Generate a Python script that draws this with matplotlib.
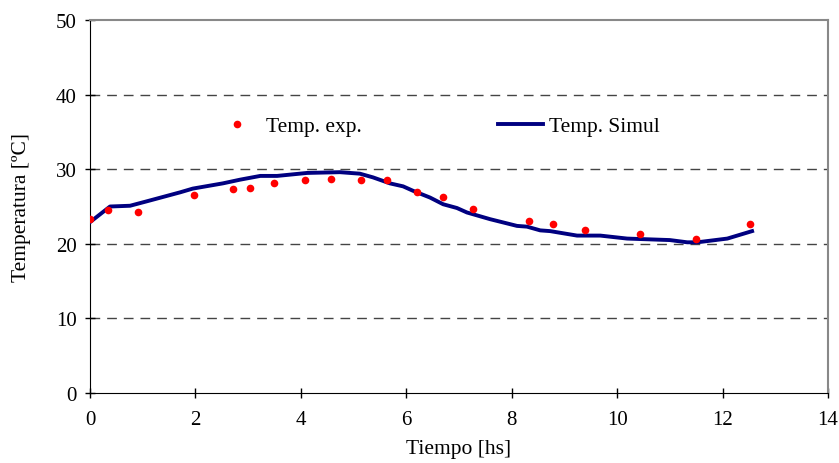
import matplotlib
matplotlib.use("Agg")
import matplotlib.pyplot as plt

exp_t = [0.0, 0.34, 0.91, 1.97, 2.71, 3.04, 3.49, 4.08, 4.57, 5.14, 5.64, 6.20, 6.70, 7.27, 8.33, 8.79, 9.39, 10.44, 11.50, 12.52]
exp_T = [23.3, 24.5, 24.3, 26.6, 27.3, 27.5, 28.1, 28.5, 28.7, 28.5, 28.5, 27.0, 26.3, 24.7, 23.0, 22.7, 21.8, 21.3, 20.7, 22.6]

sim_t = [0.0, 0.38, 0.76, 1.08, 1.71, 1.95, 2.52, 2.85, 3.23, 3.55, 4.12, 4.74, 5.12, 5.37, 5.69, 5.94, 6.13, 6.45, 6.70,
         6.96, 7.15, 7.59, 8.10, 8.29, 8.54, 8.73, 9.24, 9.68, 10.19, 11.0, 11.33, 11.52, 12.09, 12.56]
sim_T = [22.9, 25.0, 25.1, 25.7, 26.9, 27.4, 28.1, 28.6, 29.1, 29.1, 29.5, 29.6, 29.4, 28.9, 28.1, 27.7, 27.1, 26.2, 25.3,
         24.8, 24.2, 23.3, 22.4, 22.3, 21.8, 21.7, 21.1, 21.1, 20.7, 20.5, 20.2, 20.2, 20.7, 21.7]

plt.rcParams['font.family'] = ['Liberation Serif', 'DejaVu Serif']

fig = plt.figure(figsize=(8.39, 4.64), dpi=100)
ax = fig.add_axes([90/839, 1-394/464, 738/839, 373/464])

for y in [10, 20, 30, 40]:
    ax.axhline(y, color='#444444', lw=1.0, ls=(0, (7, 5)), zorder=1)

ax.plot(sim_t, sim_T, color='#000080', lw=2.8, label='Temp. Simul', zorder=3)
ax.plot(exp_t, exp_T, 'o', color='#ff0000', ms=5.5, mec='none', label='Temp. exp.', zorder=4)

ax.set_xlim(0, 14)
ax.set_ylim(0, 50)
ax.set_xticks(range(0, 15, 2))
ax.set_yticks(range(0, 51, 10))
ax.tick_params(direction='inout', length=7, width=1, labelsize=15, colors='black')
ax.tick_params(axis='x', pad=9)
ax.tick_params(axis='y', pad=6)
ax.spines['top'].set_color('#888888')
ax.spines['right'].set_color('#888888')
ax.spines['left'].set_color('black')
ax.spines['bottom'].set_color('black')
for s in ['top', 'right']:
    ax.spines[s].set_linewidth(1.5)

ax.set_xlabel('Tiempo [hs]', fontsize=15.5, labelpad=7)
ax.set_ylabel('Temperatura [ºC]', fontsize=15.5, labelpad=18)

h, l = ax.get_legend_handles_labels()
leg = ax.legend([h[1], h[0]], [l[1], l[0]], loc='center left', bbox_to_anchor=(0.169, 0.715),
                ncol=2, frameon=False, fontsize=15.5, columnspacing=6.33, handlelength=2.1,
                handletextpad=0.28, borderaxespad=0, borderpad=0)

fig.savefig('out.png', dpi=100)
